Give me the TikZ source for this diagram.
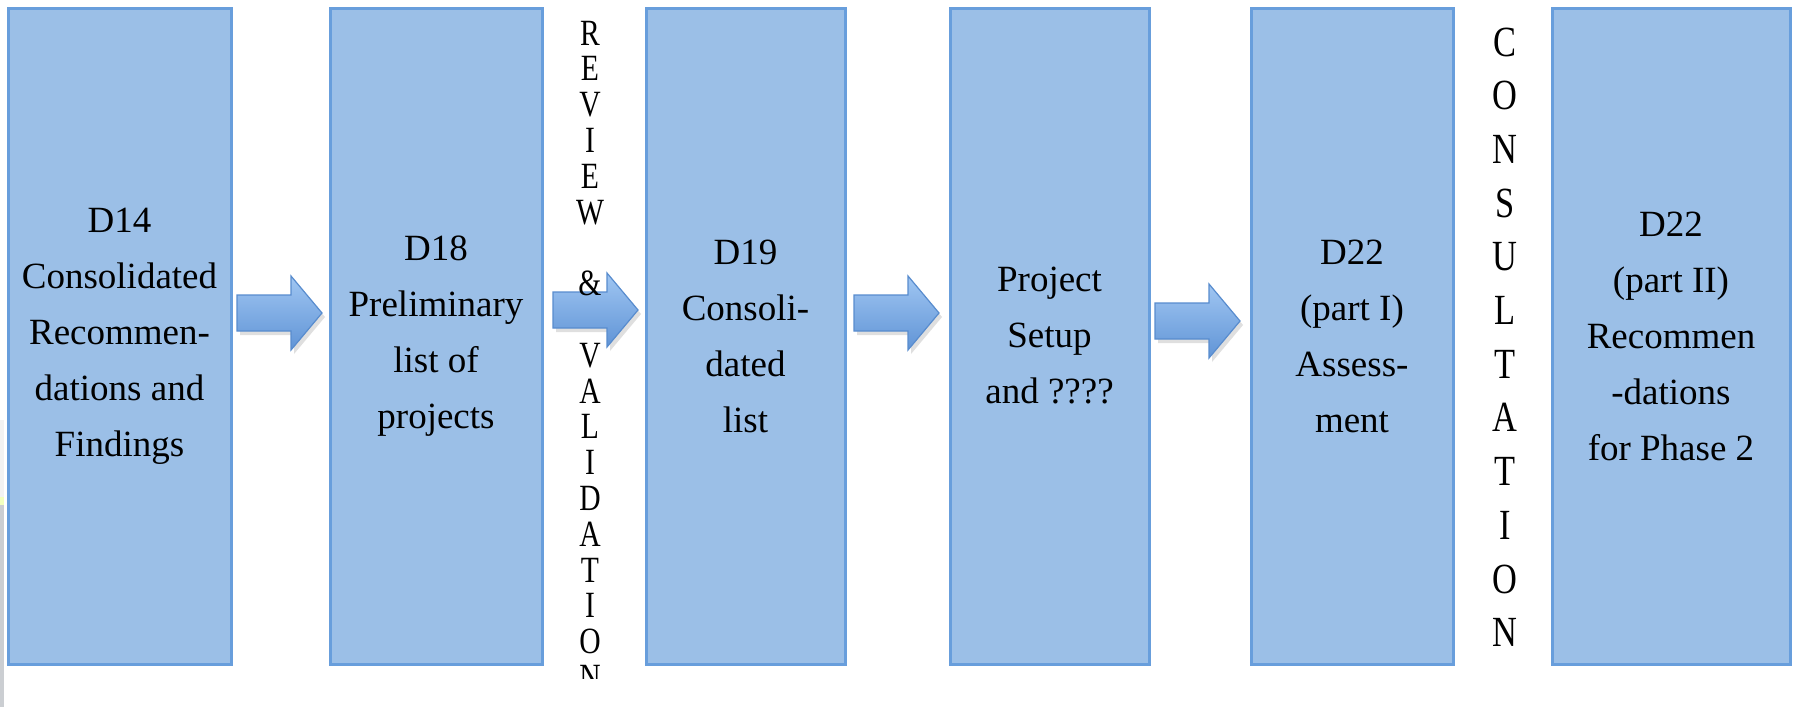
\documentclass[tikz,border=0pt]{standalone}
\usepackage{fontspec}
\setmainfont{Liberation Serif}
\usetikzlibrary{shadows}
\definecolor{boxfill}{RGB}{155,191,231}
\definecolor{boxline}{RGB}{104,158,220}
\definecolor{arrtop}{RGB}{160,198,242}
\definecolor{arrbot}{RGB}{96,148,214}
\definecolor{arrline}{RGB}{88,140,206}
\definecolor{edgegray}{RGB}{203,206,210}
\tikzset{
  x=1pt, y=-1pt,
  stagebox/.style={draw=boxline, line width=3pt, fill=boxfill, inner sep=0pt,
    minimum height=656pt, align=center,
    font=\fontsize{37}{56}\selectfont},
  vlet/.style={inner sep=0pt, anchor=base, xscale=0.8,
    font=\fontsize{37}{36}\selectfont},
  clet/.style={inner sep=0pt, anchor=base, xscale=0.8,
    font=\fontsize{43}{43}\selectfont},
  barrow/.pic={
    \path[draw=arrline, line width=1.2pt, line join=miter,
      top color=arrtop, bottom color=arrbot,
      drop shadow={shadow xshift=3pt, shadow yshift=-4pt, opacity=0.25}]
      (0,-18) -- (54,-18) -- (54,-37) -- (85,0) -- (54,37) -- (54,18) -- (0,18) -- cycle;
  }
}
\begin{document}
\begin{tikzpicture}
\useasboundingbox (0,0) rectangle (1801,707);
\fill[white] (0,0) rectangle (1801,707);
% faint edge artifact at the left border
\fill[edgegray] (0,505) rectangle (4,707);
\fill[green!20!yellow!25] (0,497) rectangle (4,505);
\fill[black!5] (0,420) rectangle (4,497);

% stages
\node[stagebox, minimum width=223pt] (b1) at (119.5,336) {D14\\Consolidated\\Recommen-\\dations and\\Findings};
\node[stagebox, minimum width=212pt] (b2) at (436,336) {D18\\Preliminary\\list of\\projects};
\node[stagebox, minimum width=199pt] (b3) at (745.5,336) {D19\\Consoli-\\dated\\list};
\node[stagebox, minimum width=199pt] (b4) at (1049.5,336) {Project\\Setup\\and ????};
\node[stagebox, minimum width=202pt] (b5) at (1352,336) {D22\\(part I)\\Assess-\\ment};
\node[stagebox, minimum width=238pt] (b6) at (1671,336) {D22\\(part II)\\Recommen\\-dations\\for Phase 2};

% block arrows
\pic at (237,313) {barrow};
\pic at (553,310) {barrow};
\pic at (854,313) {barrow};
\pic at (1155,321) {barrow};

% REVIEW & VALIDATION (clipped at the bottom)
\begin{scope}
\clip (560,0) rectangle (622,678);
\foreach \k/\l in {1/R,2/E,3/V,4/I,5/E,6/W,8/\&,10/V,11/A,12/L,13/I,14/D,15/A,16/T,17/I,18/O,19/N}
  \node[vlet] (rv\k) at (590,{45+35.8*(\k-1)}) {\l};
\end{scope}

% CONSULTATION
\foreach \k/\l in {1/C,2/O,3/N,4/S,5/U,6/L,7/T,8/A,9/T,10/I,11/O,12/N}
  \node[clet] (cs\k) at (1505,{56+53.7*(\k-1)}) {\l};
\end{tikzpicture}
\end{document}
